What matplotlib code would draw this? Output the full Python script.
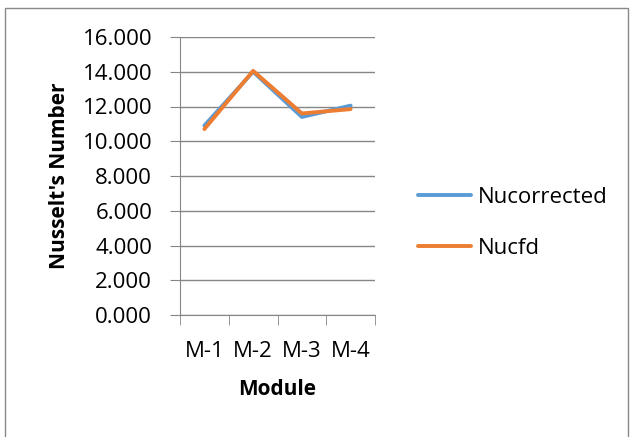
import matplotlib.pyplot as plt
from matplotlib.patches import Rectangle

plt.rcParams['font.family'] = ['Open Sans', 'DejaVu Sans']

# Nusselt number per module
modules = ['M-1', 'M-2', 'M-3', 'M-4']
nu_corrected = [10.9, 14.0, 11.4, 12.05]
nu_cfd = [10.7, 14.05, 11.6, 11.85]

fig = plt.figure(figsize=(6.33, 4.37), dpi=100)
fig.patches.append(Rectangle((5/633, -0.05), 623/633, 1.05 - 8/437, transform=fig.transFigure,
                             fill=False, edgecolor='#898989', linewidth=1))
ax = fig.add_axes([180/633, 122/437, 195/633, 278/437])

x = list(range(len(modules)))
ax.plot(x, nu_corrected, color='#5B9BD5', linewidth=2.8, label='Nucorrected', solid_capstyle='round')
ax.plot(x, nu_cfd, color='#ED7D31', linewidth=2.8, label='Nucfd', solid_capstyle='round')

ax.set_xlim(-0.5, 3.5)
ax.set_ylim(0, 16)
ax.set_yticks(range(0, 17, 2))
ax.set_yticklabels(['%.3f' % v for v in range(0, 17, 2)])
ax.set_xticks(x)
ax.set_xticklabels(modules)
ax.set_xticks([-0.5, 0.5, 1.5, 2.5, 3.5], minor=True)
ax.tick_params(axis='x', which='major', length=0, pad=19, labelsize=16, colors='#000000')
ax.tick_params(axis='x', which='minor', length=7, color='#868686', direction='out')
ax.tick_params(axis='y', length=7, color='#868686', labelsize=16, pad=13)

ax.grid(axis='y', color='#868686', linewidth=1)
ax.set_axisbelow(True)
for s in ['top', 'right']:
    ax.spines[s].set_visible(False)
ax.spines['left'].set_color('#868686')
ax.spines['bottom'].set_color('#868686')

ax.set_xlabel('Module', fontsize=15, fontweight='bold', labelpad=12)
ax.set_ylabel("Nusselt's Number", fontsize=15, fontweight='bold', labelpad=9)

fig.legend(loc='center left', bbox_to_anchor=(398/633, 1 - 223/437), frameon=False,
           fontsize=16, handlelength=2.4, labelspacing=1.35, handletextpad=0.3)

fig.savefig('out.png', dpi=100)
